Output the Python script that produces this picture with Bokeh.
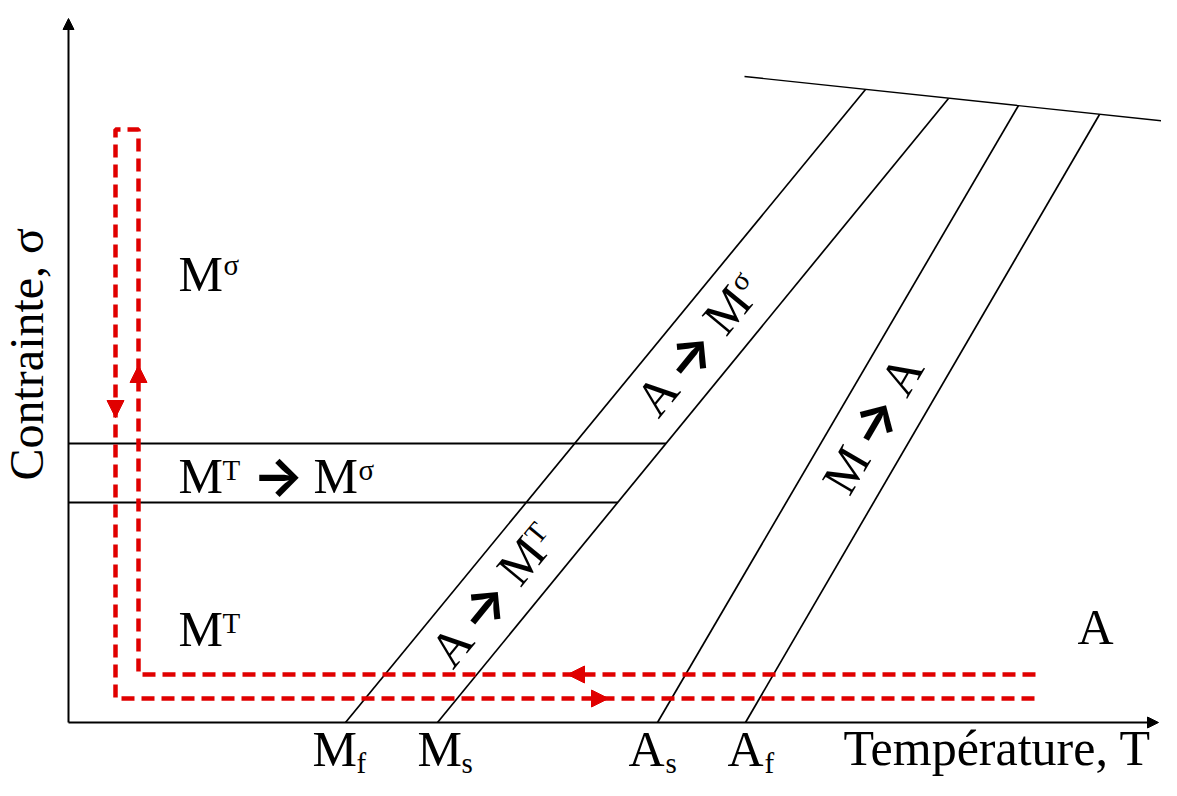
import math
from bokeh.plotting import figure
from bokeh.models import Range1d, Arrow, NormalHead
from bokeh.core.properties import value
from bokeh.embed import file_html
from bokeh.resources import INLINE

# ---------------- data (schematic units: T to the right, sigma upward) ----------------
trans_names = ["M", "M", "A", "A"]
trans_subs = ["f", "s", "s", "f"]
trans_T0 = [277, 369, 589, 677]          # transformation temperatures at zero stress
trans_T_top = [797, 880, 950, 1031]      # T where each line meets the upper limit
trans_sig_top = [633, 624, 617, 608]     # sigma where each line meets the upper limit
limit_T = [676, 1109]                    # upper limit line
limit_sig = [646, 600]
reorient_sig = [220, 279]                # sigma_s, sigma_f (M^T -> M^sigma)
path_T = [967, 70, 70, 47, 47, 967]      # thermo-mechanical loading path
path_sig = [48, 48, 593, 593, 24, 24]
flow_T = [499, 540, 47, 70]              # arrow tips on the path
flow_sig = [48, 24, 305, 357]
flow_dir = ["left", "right", "down", "up"]
axis_T_max = 1090
axis_sig_max = 704

RED = "#e00000"
SERIF = "Liberation Serif"
BIG = 50
SMALL = 29
BASE_FIX = 0.37   # baseline correction (fraction of font size)


def line_T(i, sig):
    return trans_T0[i] + sig * (trans_T_top[i] - trans_T0[i]) / trans_sig_top[i]


p = figure(width=1161, height=780, x_range=Range1d(-68, 1093), y_range=Range1d(-58, 722),
           output_backend="svg", toolbar_location=None, min_border=0,
           x_axis_location=None, y_axis_location=None)
p.grid.visible = False
p.outline_line_color = None
p.background_fill_color = "white"
p.border_fill_color = "white"

# transformation lines
for i in range(4):
    p.line([trans_T0[i], trans_T_top[i]], [0, trans_sig_top[i]], line_color="black", line_width=1.7)
# upper limit
p.line(limit_T, limit_sig, line_color="black", line_width=1.4)
# reorientation lines (end on Ms line)
for s in reorient_sig:
    p.line([0, line_T(1, s)], [s, s], line_color="black", line_width=1.8)

# loading path
p.line(path_T, path_sig, line_color=RED, line_width=4.5, line_dash="13 7")
vec = {"left": (1, 0), "right": (-1, 0), "down": (0, 1), "up": (0, -1)}
for t, s, d in zip(flow_T, flow_sig, flow_dir):
    dx, dy = vec[d]
    p.add_layout(Arrow(end=NormalHead(size=17, fill_color=RED, line_color=RED),
                       x_start=t + 18 * dx, y_start=s + 18 * dy, x_end=t, y_end=s,
                       line_alpha=0))

# axes with arrows
p.add_layout(Arrow(end=NormalHead(size=11, fill_color="black", line_color="black"),
                   x_start=0, y_start=0, x_end=axis_T_max, y_end=0, line_width=2))
p.add_layout(Arrow(end=NormalHead(size=11, fill_color="black", line_color="black"),
                   x_start=0, y_start=0, x_end=0, y_end=axis_sig_max, line_width=2))


def rich(x, y, pieces, angle_deg=0.0):
    th = math.radians(angle_deg)
    ux, uy = math.cos(th), math.sin(th)
    nx, ny = -math.sin(th), math.cos(th)
    for text, size, dx, dy, font, style in pieces:
        dy = dy + BASE_FIX * size
        px = x + dx * ux + dy * nx
        py = y + dx * uy + dy * ny
        p.text(x=[px], y=[py], text=[text], angle=th,
               text_font=value(font), text_font_size=f"{size}px", text_font_style=style,
               text_align="left", text_baseline="alphabetic", text_color="black")


def M(dx=0):
    return ("M", BIG, dx, 0, SERIF, "normal")


def A(dx=0):
    return ("A", BIG, dx, 0, SERIF, "normal")


def sup(t, dx, dy=15):
    return (t, SMALL, dx, dy, SERIF, "normal")


def arrow(dx):
    return ("\u2192", 54, dx, -1, "Inter", "bold")


# region labels
rich(110, 430, [M(), sup("\u03c3", 45, 17)])
rich(110, 75, [M(), sup("T", 44, 14)])
rich(110, 228, [M(), sup("T", 44, 14), arrow(74), M(135), sup("\u03c3", 180, 14)])
rich(1009, 77, [A()])


# rotated band labels
def band_label(i, j, sig_c, pieces, length):
    ang = math.degrees(math.atan2(trans_sig_top[i], trans_T_top[i] - trans_T0[i]))
    th = math.radians(ang)
    cx = (line_T(i, sig_c) + line_T(j, sig_c)) / 2
    cy = sig_c
    x0 = cx - length / 2 * math.cos(th) + 16 * math.sin(th)
    y0 = cy - length / 2 * math.sin(th) - 16 * math.cos(th)
    rich(x0, y0, pieces, ang)


band_label(0, 1, 377, [A(), arrow(43), M(106), sup("\u03c3", 151, 17)], 168)
band_label(0, 1, 127, [A(), arrow(43), M(106), sup("T", 150, 14)], 170)
band_label(2, 3, 297, [M(), arrow(52), A(114)], 150)

# temperature labels on the T axis
label_dx = [-33, -20, -29, -18]
for name, sub, t0, ddx in zip(trans_names, trans_subs, trans_T0, label_dx):
    w = 44 if name == "M" else 37
    rich(t0 + ddx, -45, [(name, BIG, 0, 0, SERIF, "normal"), (sub, SMALL, w, -6, SERIF, "normal")])

# axis titles
rich(775, -44, [("Température, T", BIG, 0, 0, SERIF, "normal")])
rich(-24, 242, [("Contrainte, \u03c3", 48, 0, 0, SERIF, "normal")], 90)

open("out.html", "w").write(file_html(p, INLINE))
